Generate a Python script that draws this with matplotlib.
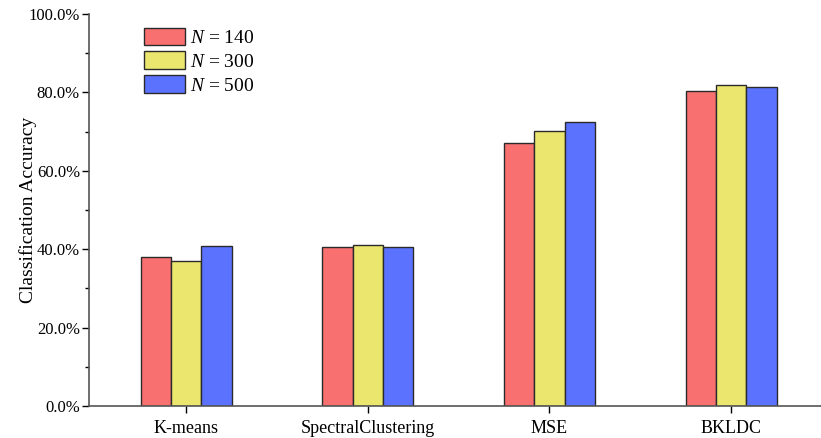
import matplotlib
matplotlib.use("Agg")
import matplotlib.pyplot as plt
import numpy as np
from matplotlib.ticker import MultipleLocator, FuncFormatter

categories = ["K-means", "SpectralClustering", "MSE", "BKLDC"]
series_labels = [r"$N$ = 140", r"$N$ = 300", r"$N$ = 500"]
n140 = [38.1, 40.6, 67.2, 80.4]
n300 = [37.0, 41.1, 70.1, 81.9]
n500 = [40.8, 40.6, 72.5, 81.4]
colors = ["#F97070", "#EBE66E", "#5B72FF"]

plt.rcParams['font.family'] = ['Liberation Serif', 'DejaVu Serif']
plt.rcParams['mathtext.fontset'] = 'custom'
plt.rcParams['mathtext.it'] = 'Liberation Serif:italic'
plt.rcParams['mathtext.rm'] = 'Liberation Serif'

fig = plt.figure(figsize=(8.21, 4.38), dpi=100)
ax = fig.add_axes([89/821, 32/438, 1 - 89/821, (406-14)/438])

x = np.arange(len(categories))
w = 0.167
for i, (vals, lab, c) in enumerate(zip([n140, n300, n500], series_labels, colors)):
    ax.bar(x + (i-1)*w, vals, width=w, color=c, edgecolor="#2a2a2a", linewidth=1.0, label=lab)

ax.set_xlim(-0.534, 3.495)
ax.set_ylim(0, 100)
ax.set_xticks(x)
ax.set_xticklabels(categories, fontsize=13)
ax.yaxis.set_major_locator(MultipleLocator(20))
ax.yaxis.set_minor_locator(MultipleLocator(10))
ax.yaxis.set_major_formatter(FuncFormatter(lambda v, p: f"{v:.1f}%"))
ax.tick_params(axis='y', labelsize=12, length=5, width=1, direction='out', pad=1.5)
ax.tick_params(axis='y', which='minor', length=3, width=1)
ax.tick_params(axis='x', length=5, width=1, pad=5)
for s in ['top', 'right']:
    ax.spines[s].set_visible(False)
for s in ['left', 'bottom']:
    ax.spines[s].set_color('#555555')
    ax.spines[s].set_linewidth(1.2)
ax.set_ylabel("Classification Accuracy", fontsize=14)
ax.yaxis.set_label_coords(-0.071, 0.5)

leg = ax.legend(loc='upper left', bbox_to_anchor=(0.057, 1.0), frameon=False, fontsize=14,
                handlelength=2.1, handleheight=1.0, handletextpad=0.25, labelspacing=0.23, borderaxespad=0.3)

fig.savefig("out.png", dpi=100)
